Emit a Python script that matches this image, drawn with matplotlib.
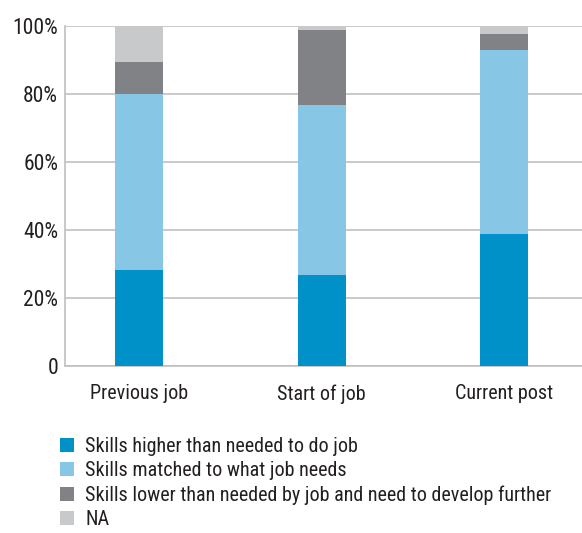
import matplotlib.pyplot as plt
import numpy as np

# data
categories = ['Previous job', 'Start of job', 'Current post']
higher = [28.2, 26.8, 38.8]
matched = [51.8, 50.0, 54.1]
lower = [9.4, 22.0, 4.7]
na = [10.6, 1.2, 2.4]
labels = ['Skills higher than needed to do job',
          'Skills matched to what job needs',
          'Skills lower than needed by job and need to develop further',
          'NA']
colors = ['#0091c9', '#87c7e5', '#808285', '#c8c9cb']

plt.rcParams['font.family'] = ['Roboto Condensed', 'Liberation Sans Narrow',
                               'Liberation Sans', 'DejaVu Sans']

fig = plt.figure(figsize=(5.82, 5.33), dpi=100)
ax = fig.add_axes([0.112, 0.313, 0.888, 0.638])

x = np.arange(len(categories))
bottom = np.zeros(len(categories))
bars = []
for vals, col, lab in zip([higher, matched, lower, na], colors, labels):
    b = ax.bar(x, vals, width=0.262, bottom=bottom, color=col, label=lab, zorder=3)
    bars.append(b)
    bottom += np.array(vals)

ax.set_xlim(-0.404, 2.426)
ax.set_ylim(0, 100)
ax.set_yticks([0, 20, 40, 60, 80, 100])
ax.set_yticklabels(['0', '20%', '40%', '60%', '80%', '100%'])
ax.set_xticks(x)
ax.set_xticklabels(categories)
ax.tick_params(length=0, labelsize=14.5, colors='#231f20', pad=5)
ax.tick_params(axis='y', labelsize=15.5)
ax.tick_params(axis='x', pad=13)
ax.grid(axis='y', color='#c0c0c0', linewidth=1.2, zorder=0)

for s in ['top', 'right']:
    ax.spines[s].set_visible(False)
ax.spines['left'].set_color('#c0c0c0')
ax.spines['bottom'].set_color('#c0c0c0')
ax.spines['left'].set_linewidth(1.2)
ax.spines['bottom'].set_linewidth(1.2)

fig.legend(handles=bars, loc='upper left', bbox_to_anchor=(0.103, 0.18),
           frameon=False, fontsize=14.5, handlelength=0.7, handleheight=0.7,
           handletextpad=0.55, labelspacing=0.25, borderpad=0, borderaxespad=0,
           labelcolor='#231f20')

plt.savefig('out.png', dpi=100)
